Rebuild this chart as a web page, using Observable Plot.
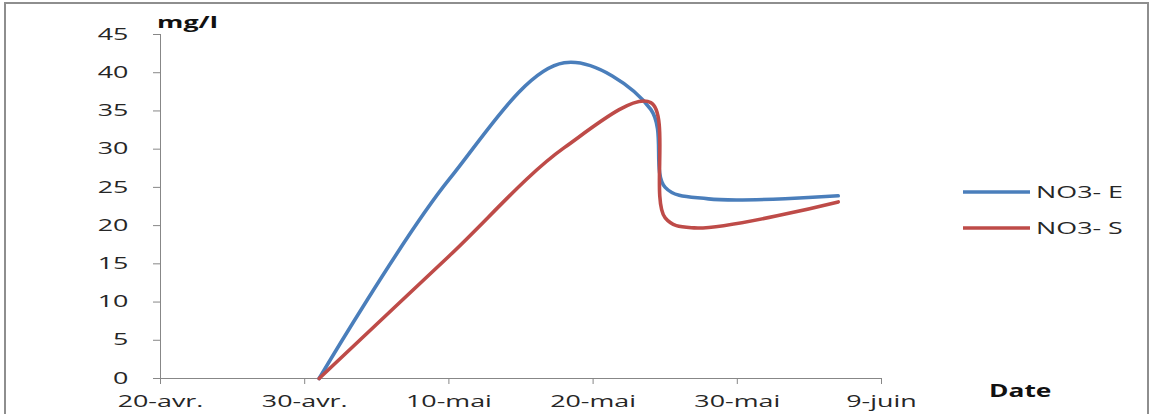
<!DOCTYPE html>
<html>
<head>
<meta charset="utf-8">
<script src="https://cdn.jsdelivr.net/npm/d3@7"></script>
<script src="https://cdn.jsdelivr.net/npm/@observablehq/plot@0.6"></script>
<style>
  html, body { margin: 0; padding: 0; background: #fff; overflow: hidden; }
  #wrap { position: relative; width: 1154px; height: 414px; overflow: hidden; }
  #frame { position: absolute; left: 4px; top: 2px; width: 1145px; height: 430px; border: 2px solid #8e8e8e; box-sizing: border-box; pointer-events: none; }
  #chart { position: absolute; left: 0; top: 0; }
  svg g[aria-label="x-axis tick"], svg g[aria-label="y-axis tick"] { stroke: #878787; }
</style>
</head>
<body>
<div id="wrap"><div id="chart"></div><div id="frame"></div></div>
<script>
// ---- data ----
const series = ["NO3- E", "NO3- S"];
const colors = ["#4a7ebb", "#be4b48"];
const datesE = ["2013-05-01", "2013-05-10", "2013-05-18", "2013-05-24", "2013-05-25", "2013-05-28", "2013-06-06"];
const valuesE = [0, 26.0, 41.3, 35.2, 25.0, 23.5, 23.9];
const datesS = ["2013-05-01", "2013-05-10", "2013-05-18", "2013-05-24", "2013-05-25", "2013-05-27", "2013-06-06"];
const valuesS = [0, 16.0, 30.2, 36.1, 21.0, 19.7, 23.1];
const xTickDates = ["2013-04-20", "2013-04-30", "2013-05-10", "2013-05-20", "2013-05-30", "2013-06-09"];
const xTickLabels = ["20-avr.", "30-avr.", "10-mai", "20-mai", "30-mai", "9-juin"];
const yTicks = [0, 5, 10, 15, 20, 25, 30, 35, 40, 45];
const yLabel = "mg/l";
const xLabel = "Date";

const parse = s => new Date(s + "T00:00:00Z");
const rows = [];
datesE.forEach((d, i) => rows.push({date: parse(d), value: valuesE[i], s: series[0]}));
datesS.forEach((d, i) => rows.push({date: parse(d), value: valuesS[i], s: series[1]}));
const tickDates = xTickDates.map(parse);
const labelMap = new Map(tickDates.map((d, i) => [+d, xTickLabels[i]]));

const SX = 1.68;
const font = "'Open Sans', sans-serif";

const svg = Plot.plot({
  width: 1154,
  height: 414,
  marginLeft: 160,
  marginRight: 273,
  marginTop: 34,
  marginBottom: 36,
  style: {fontFamily: font, fontSize: "16px", color: "#262626", background: "transparent", overflow: "visible"},
  x: {type: "utc", domain: [tickDates[0], tickDates[tickDates.length - 1]]},
  y: {domain: [0, 45]},
  color: {domain: series, range: colors},
  marks: [
    Plot.ruleY([0], {stroke: "#878787", strokeWidth: 1}),
    Plot.ruleX([tickDates[0]], {stroke: "#878787", strokeWidth: 1}),
    Plot.axisX({ticks: tickDates, tickFormat: d => labelMap.get(+d), tickSize: 6, tickPadding: 11, label: null}),
    Plot.axisY({ticks: yTicks, tickSize: 7, tickPadding: 25, label: null}),
    Plot.line(rows, {x: "date", y: "value", z: "s", stroke: "s", strokeWidth: 3.6, curve: "catmull-rom", tension: 0.5})
  ]
});

// stretch tick labels horizontally (reference text is wide); keep em-based offsets untouched
svg.querySelectorAll('g[aria-label="x-axis tick label"] text, g[aria-label="y-axis tick label"] text').forEach(t => {
  const tr = t.getAttribute("transform") || "";
  t.setAttribute("transform", tr + ` scale(${SX},1)`);
});

const s = d3.select(svg);
function addText(str, x, y, opts = {}) {
  s.append("text")
    .attr("transform", `translate(${x},${y}) scale(${opts.sx || SX},1)`)
    .attr("font-family", font)
    .attr("font-size", opts.size || 16)
    .attr("font-weight", opts.weight || "normal")
    .attr("fill", opts.fill || "#262626")
    .attr("text-anchor", "start")
    .attr("dy", opts.dy || "0")
    .text(str);
}
addText(yLabel, 157, 28, {weight: "bold", size: 16, fill: "#111"});
addText(xLabel, 989, 397, {weight: "bold", size: 17, sx: 1.55, fill: "#111"});

// legend
const legY = [192, 228];
series.forEach((name, i) => {
  s.append("line").attr("x1", 963).attr("x2", 1030).attr("y1", legY[i]).attr("y2", legY[i])
    .attr("stroke", colors[i]).attr("stroke-width", 3.6);
  addText(name, 1036, legY[i], {dy: "0.36em"});
});

document.getElementById("chart").appendChild(svg);
</script>
</body>
</html>
